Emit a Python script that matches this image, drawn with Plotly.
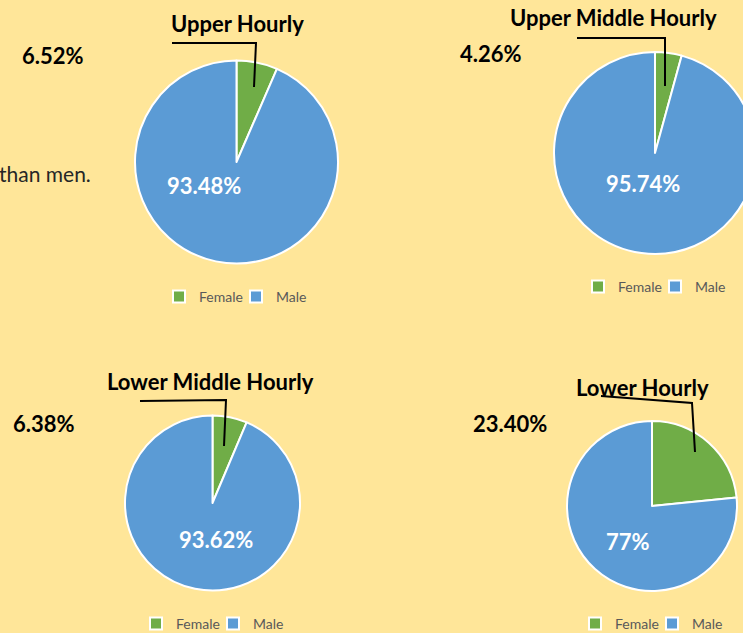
import plotly.graph_objects as go

# ---- data ----
groups = ["Upper Hourly", "Upper Middle Hourly", "Lower Middle Hourly", "Lower Hourly"]
categories = ["Female", "Male"]
female_pct = [6.52, 4.26, 6.38, 23.40]
male_pct = [93.48, 95.74, 93.62, 76.60]
female_labels = ["6.52%", "4.26%", "6.38%", "23.40%"]
male_labels = ["93.48%", "95.74%", "93.62%", "77%"]

# ---- layout (pixel geometry) ----
W, H = 760, 633
BG = "#FFE699"
GREEN = "#70AD47"
BLUE = "#5B9BD5"
FONT = "Lato"

pie_boxes = [  # (cx, cy, r) in px
    (236.5, 162, 101.5),
    (655, 153, 101),
    (212.5, 503, 87.5),
    (652, 506, 85),
]
title_pos = [(237, 24), (613, 17), (211, 381), (642, 387)]
female_pos = [(53, 55), (491, 54), (44, 423), (510, 423)]
male_pos = [(204, 186), (643, 183), (216, 539), (628, 541)]
legend_pos = [(236, 297), (655, 287), (213, 624), (652, 624)]
leaders = [
    [(172, 43), (256, 43), (254, 87)],
    [(577, 38), (665, 38), (665, 86)],
    [(140, 401), (226, 400), (224, 446)],
    [(601, 396), (692, 403), (695, 452)],
]


def px(x):
    return x / W


def py(y):
    return 1 - y / H


fig = go.Figure()
legend_names = ["legend", "legend2", "legend3", "legend4"]
for i, g in enumerate(groups):
    cx, cy, r = pie_boxes[i]
    # invisible suffix keeps each pie's legend entries separate
    labels = [c + "\u200b" * i for c in categories]
    fig.add_trace(go.Pie(
        labels=labels,
        values=[female_pct[i], male_pct[i]],
        name=g,
        sort=False,
        direction="clockwise",
        rotation=0,
        textinfo="none",
        hoverinfo="label+percent",
        marker=dict(colors=[GREEN, BLUE], line=dict(color="white", width=2)),
        domain=dict(x=[px(cx - r), px(cx + r)], y=[py(cy + r), py(cy - r)]),
        legend=legend_names[i],
    ))

annotations = []
for i, g in enumerate(groups):
    tx, ty = title_pos[i]
    annotations.append(dict(text=f"<b>{g}</b>", x=px(tx), y=py(ty), xref="paper", yref="paper",
                            showarrow=False, xanchor="center", yanchor="middle",
                            font=dict(family=FONT, size=22, color="black")))
    fx, fy = female_pos[i]
    annotations.append(dict(text=f"<b>{female_labels[i]}</b>", x=px(fx), y=py(fy), xref="paper", yref="paper",
                            showarrow=False, xanchor="center", yanchor="middle",
                            font=dict(family=FONT, size=22, color="black")))
    mx, my = male_pos[i]
    annotations.append(dict(text=f"<b>{male_labels[i]}</b>", x=px(mx), y=py(my), xref="paper", yref="paper",
                            showarrow=False, xanchor="center", yanchor="middle",
                            font=dict(family=FONT, size=22, color="white")))
annotations.append(dict(text="than men.", x=px(93), y=py(173), xref="paper", yref="paper",
                        showarrow=False, xanchor="right", yanchor="middle",
                        font=dict(family=FONT, size=21, color="#262626")))

shapes = []
for pts in leaders:
    path = "M" + " L".join(f"{px(x):.5f},{py(y):.5f}" for x, y in pts)
    shapes.append(dict(type="path", path=path, xref="paper", yref="paper",
                       line=dict(color="black", width=2)))

layout = dict(
    width=W, height=H,
    margin=dict(l=0, r=0, t=0, b=0, autoexpand=False),
    paper_bgcolor=BG, plot_bgcolor=BG,
    annotations=annotations, shapes=shapes,
    font=dict(family=FONT),
)
for i, ln in enumerate(legend_names):
    lx, ly = legend_pos[i]
    layout[ln] = dict(orientation="h", x=px(lx), y=py(ly), xanchor="center", yanchor="middle",
                      bgcolor="rgba(0,0,0,0)", font=dict(family=FONT, size=14, color="#595959"),
                      entrywidth=32, itemwidth=30)
fig.update_layout(**layout)

fig.write_html("out.html", config={"displayModeBar": False},
               post_script="document.body.style.margin='0';document.body.style.overflow='hidden';")
